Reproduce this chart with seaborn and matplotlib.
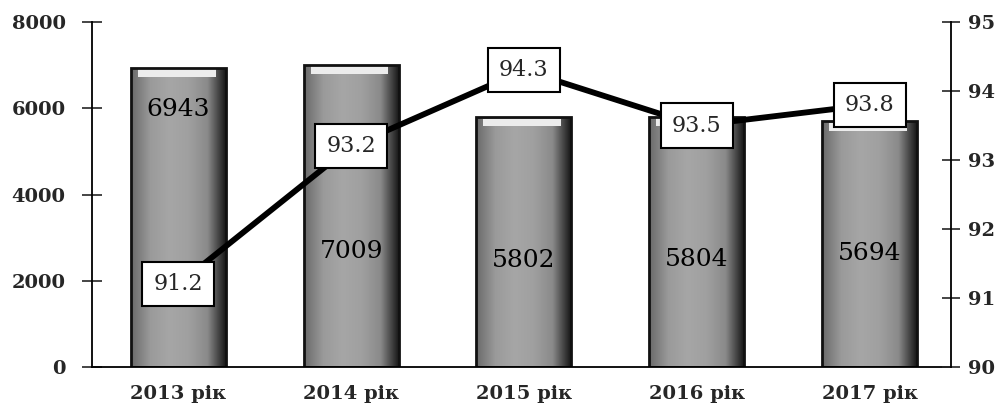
import matplotlib
matplotlib.use("Agg")
import matplotlib.pyplot as plt
import numpy as np
import seaborn as sns
from matplotlib.colors import LinearSegmentedColormap

# data
years = ["2013 рік", "2014 рік", "2015 рік", "2016 рік", "2017 рік"]
counts = [6943, 7009, 5802, 5804, 5694]
shares = [91.2, 93.2, 94.3, 93.5, 93.8]

sns.set_style("white")
plt.rcParams["font.family"] = ["DejaVu Serif"]

fig = plt.figure(figsize=(10.05, 4.04), dpi=100)
ax = fig.add_axes([0.0915, 0.0916, 0.8545, 0.8539])

sns.barplot(x=years, y=counts, ax=ax, color="#a0a0a0", width=0.55,
            edgecolor="#111111", linewidth=2.0, saturation=1)

# shaded look of the bars: flat grey body, dark right edge
cmap = LinearSegmentedColormap.from_list(
    "bar", ["#6a6a6a", "#9a9a9a", "#a6a6a6", "#a0a0a0", "#8a8a8a", "#111111"])
grad = np.linspace(0, 1, 256).reshape(1, -1)
for p in ax.patches:
    x0, y0 = p.get_x(), p.get_y()
    w, h = p.get_width(), p.get_height()
    im = ax.imshow(grad, cmap=cmap, aspect="auto", extent=[x0, x0 + w, y0, y0 + h],
                   zorder=p.get_zorder() + 0.1)
    im.set_clip_path(p)
    # light top rim
    ax.fill_between([x0 + 0.04, x0 + w - 0.06], y0 + h - 220, y0 + h - 40,
                    color="#ececec", zorder=p.get_zorder() + 0.2, lw=0)
    p.set_zorder(p.get_zorder() + 0.3)
    p.set_facecolor("none")

ax.set_xlim(-0.5, 4.47)
ax.set_ylim(0, 8000)
ax.set_yticks(range(0, 8001, 2000))
ax.set_xticks(np.arange(-0.5, 4.5, 1), minor=True)
ax.tick_params(axis="x", which="major", length=0, pad=13)
ax.tick_params(axis="x", which="minor", direction="inout", length=10, width=1.2)
ax.tick_params(axis="y", direction="inout", length=14, width=1.2, pad=12)
for lab in ax.get_xticklabels() + ax.get_yticklabels():
    lab.set_fontsize(14)
    lab.set_fontweight("bold")
ax.set_xlabel("")
ax.set_ylabel("")
for s in ["left", "bottom"]:
    ax.spines[s].set_color("black")
    ax.spines[s].set_linewidth(1.3)
ax.spines["top"].set_visible(False)
ax.spines["right"].set_visible(False)

# bar value labels (first one raised so it clears the line box)
label_y = [5980, 2670, 2480, 2500, 2640]
for i, (v, yy) in enumerate(zip(counts, label_y)):
    ax.text(i, yy, str(v), ha="center", va="center", fontsize=18,
            color="black", zorder=10)

ax2 = ax.twinx()
sns.lineplot(x=years, y=shares, ax=ax2, color="black", linewidth=4.2, sort=False)
ax2.set_ylim(90, 95)
ax2.set_yticks(range(90, 96))
ax2.tick_params(axis="y", direction="inout", length=13, width=1.2, pad=6)
for lab in ax2.get_yticklabels():
    lab.set_fontsize(14)
    lab.set_fontweight("bold")
ax2.set_ylabel("")
ax2.spines["right"].set_color("black")
ax2.spines["right"].set_linewidth(1.3)
for s in ["top", "left", "bottom"]:
    ax2.spines[s].set_visible(False)

for i, v in enumerate(shares):
    ax2.text(i, v, f"{v}", ha="center", va="center", fontsize=16, zorder=12,
             bbox=dict(boxstyle="square,pad=0.5", fc="white", ec="black", lw=1.5))

fig.savefig("out.png", dpi=100)
